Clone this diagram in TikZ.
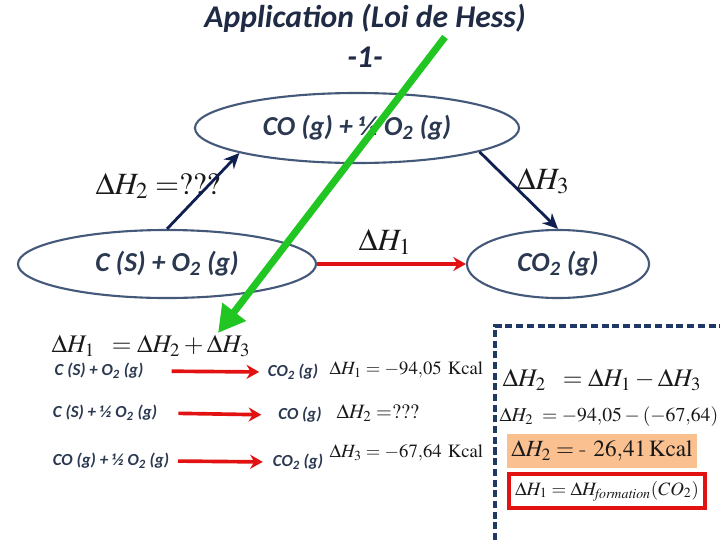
\documentclass[tikz,border=0pt]{standalone}
\usepackage{mathptmx}
\usepackage[no-math]{fontspec}
\usepackage{xcolor}
\usetikzlibrary{arrows.meta}
\usetikzlibrary{shapes.geometric}

\newfontfamily\calibri{Carlito}
\definecolor{titlecol}{RGB}{31,42,68}
\definecolor{slatetxt}{RGB}{42,56,80}
\definecolor{ellline}{RGB}{68,89,122}
\definecolor{navyarr}{RGB}{15,32,80}
\definecolor{redarr}{RGB}{226,18,18}
\definecolor{greenarr}{RGB}{34,198,34}
\definecolor{orangebg}{RGB}{250,192,144}
\definecolor{dashnavy}{RGB}{31,56,100}
\definecolor{mathtxt}{RGB}{25,25,25}

\begin{document}
\begin{tikzpicture}[x=0.025cm,y=-0.025cm,
    titre/.style={font=\calibri\bfseries\itshape\fontsize{22.5}{27}\selectfont,text=titlecol},
    chem/.style={font=\calibri\bfseries\itshape\fontsize{19.5}{23}\selectfont,text=slatetxt},
    petit/.style={font=\calibri\bfseries\itshape\fontsize{12}{14}\selectfont,text=slatetxt,inner sep=1pt},
    etat/.style={ellipse,draw=ellline,line width=1.5pt,inner sep=0pt},
    eq/.style={text=mathtxt,inner sep=1pt},
    fleche/.style={navyarr,line width=2pt,-{Stealth[length=11pt,width=10pt]}},
    rouge/.style={redarr,line width=2.6pt,-{Stealth[length=9pt,width=10pt]}}]
    \useasboundingbox (0,0) rectangle (720,540);

    \node[titre] (titre) at (365,18) {Application (Loi de Hess)};
    \node[titre] (numero) at (365,57) {-1-};

    \node[etat,chem,minimum width=8.1cm,minimum height=1.75cm] (co) at (357,128) {CO (g) + ½ O\textsubscript{2} (g)};
    \node[etat,chem,minimum width=7.45cm,minimum height=1.7cm] (c) at (167,264) {C (S) + O\textsubscript{2} (g)};
    \node[etat,chem,minimum width=4.55cm,minimum height=1.7cm] (co2) at (558,264) {CO\textsubscript{2} (g)};

    \node[eq,font=\fontsize{22}{26}\selectfont] (dh2) at (158,186) {$\Delta H_2 = ???$};
    \node[eq,font=\fontsize{22}{26}\selectfont] (dh3) at (543,181) {$\Delta H_3$};
    \node[eq,font=\fontsize{22}{26}\selectfont] (dh1) at (385,242) {$\Delta H_1$};

    \draw[fleche] (c.north) -- (co.192);
    \draw[fleche] (co.349) -- (co2.north);
    \draw[rouge] (c.east) -- (co2.west);

    \node[eq,font=\fontsize{18}{21}\selectfont,anchor=west] (somme) at (50,346) {$\Delta H_1 \;\; = \Delta H_2 + \Delta H_3$};

    \node[petit] (r1) at (99,371) {C (S) + O\textsubscript{2} (g)};
    \node[petit] (p1) at (293,372) {CO\textsubscript{2} (g)};
    \node[eq,anchor=west,font=\fontsize{13.3}{16}\selectfont] (e1) at (328,370) {$\Delta H_1 = -94{,}05\ \mathrm{Kcal}$};
    \node[petit] (r2) at (105,413) {C (S) + ½ O\textsubscript{2} (g)};
    \node[petit] (p2) at (300,415) {CO (g)};
    \node[eq,anchor=west,font=\fontsize{14.5}{17}\selectfont] (e2) at (335,413) {$\Delta H_2 = ???$};
    \node[petit] (r3) at (111,461) {CO (g) + ½ O\textsubscript{2} (g)};
    \node[petit] (p3) at (298,462) {CO\textsubscript{2} (g)};
    \node[eq,anchor=west,font=\fontsize{13.3}{16}\selectfont] (e3) at (328,453) {$\Delta H_3 = -67{,}64\ \mathrm{Kcal}$};

    \draw[rouge,shorten <=19pt,shorten >=5pt] (r1.east) -- (p1.west);
    \draw[rouge,shorten <=14pt,shorten >=11pt] (r2.east) -- (p2.west);
    \draw[rouge,shorten <=5pt,shorten >=6pt] (r3.east) -- (p3.west);

    \draw[dashnavy,line width=2.6pt,dash pattern=on 5pt off 2.6pt] (495,540) -- (495,326) -- (720,326);
    \node[eq,anchor=west,font=\fontsize{18}{21}\selectfont] (bilan) at (501,380) {$\Delta H_2 \;\; = \Delta H_1 - \Delta H_3$};
    \node[eq,anchor=west,font=\fontsize{14}{17}\selectfont] (calcul) at (498,417) {$\Delta H_2 \; = -94{,}05 - (-67{,}64)$};
    \node[eq,fill=orangebg,minimum width=4.75cm,minimum height=0.83cm,font=\fontsize{16.5}{19}\selectfont] (resultat) at (602,451) {$\Delta H_2 = \mbox{-}\ 26{,}41\,\mathrm{Kcal}$};
    \node[eq,draw=redarr,line width=2.8pt,minimum width=4.9cm,minimum height=0.83cm,font=\fontsize{13.4}{16}\selectfont] (formation) at (607,491) {$\Delta H_1 = \Delta H_{\mathit{formation}} (CO_2)$};

    \coordinate (vhaut) at (445,37);
    \coordinate (vbas) at (218,333);
    \draw[greenarr,line width=5pt,-{Triangle[length=19pt,width=20pt]}] (vhaut) -- (vbas);
\end{tikzpicture}
\end{document}
